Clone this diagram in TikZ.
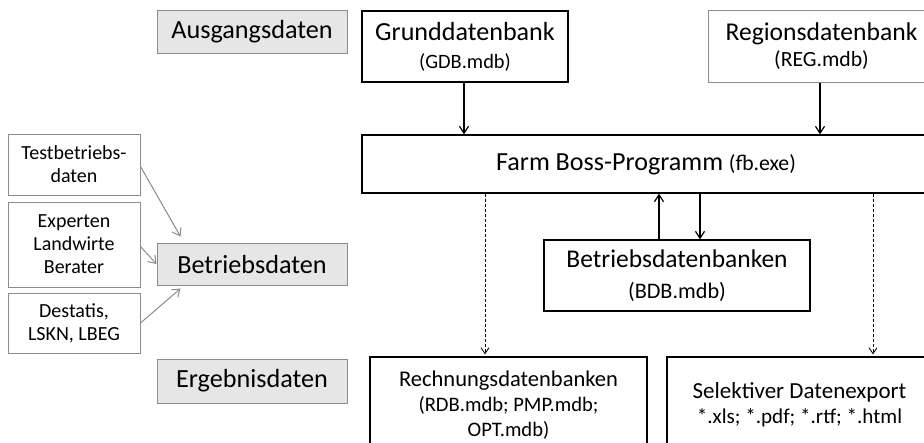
\documentclass[tikz,border=0pt]{standalone}
\usepackage{fontspec}
\setmainfont{Carlito}
\usetikzlibrary{arrows.meta}

\begin{document}
\begin{tikzpicture}[x=1pt,y=-1pt,
    fbox/.style={shape=rectangle,draw,line width=1.2pt,inner sep=0pt,align=center},
    levelbox/.style={fbox,draw=hlearn_line,line width=1pt,fill=hlearn_level,minimum width=190pt,font=\fontsize{26.2}{28}\selectfont},
    srcbox/.style={fbox,draw=hlearn_line,line width=1pt,minimum width=132pt,font=\fontsize{20}{23}\selectfont},
    dbbox/.style={fbox,font=\fontsize{26.1}{28}\selectfont},
    feed/.style={draw=hlearn_line,line width=1pt,-{Straight Barb[length=7pt,width=10pt]}},
    flow/.style={line width=1.2pt,-{Straight Barb[length=7pt,width=9pt]}},
    export/.style={line width=0.8pt,dash pattern=on 3pt off 2pt,-{Straight Barb[length=6pt,width=8pt]}}]
    \definecolor{hlearn_level}{RGB}{230,230,230}
    \definecolor{hlearn_line}{RGB}{140,140,140}
    \clip (0,0) rectangle (924,442);
    % Ebenen
    \node[levelbox,minimum height=43pt] (ausgang)  at (252,31.5) {Ausgangsdaten};
    \node[levelbox,minimum height=42pt] (betrieb)  at (252,264)  {Betriebsdaten};
    \node[levelbox,minimum height=44pt] (ergebnis) at (252,381)  {Ergebnisdaten};
    % Quellen der Betriebsdaten
    \node[srcbox,minimum height=61pt] (test) at (74,164.5) {Testbetriebs-\\daten};
    \node[srcbox,minimum height=85pt] (expert) at (74,244.5) {Experten\\Landwirte\\Berater};
    \node[srcbox,minimum height=60pt] (destatis) at (74,323) {Destatis,\\LSKN, LBEG};
    % Datenbanken und Programm
    \node[dbbox,minimum width=206pt,minimum height=71pt] (gdb) at (465,46.5) {Grunddatenbank\\{\fontsize{20.4}{24}\selectfont(GDB.mdb)}};
    \node[dbbox,draw=hlearn_line,line width=1pt,font=\fontsize{25.6}{26}\selectfont,minimum width=227pt,minimum height=72pt] (reg) at (821.5,46) {Regionsdatenbank\\{\fontsize{21.7}{24}\selectfont(REG.mdb)}};
    \node[dbbox,minimum width=568pt,minimum height=58pt] (fb) at (646,164) {Farm Boss-Programm {\fontsize{21.8}{24}\selectfont(fb.exe)}};
    \node[dbbox,font=\fontsize{25.5}{31}\selectfont,minimum width=266pt,minimum height=71pt] (bdb) at (677,275.5) {Betriebsdatenbanken\\{\fontsize{22.2}{26}\selectfont(BDB.mdb)}};
    \node[dbbox,font=\fontsize{22.5}{25}\selectfont,minimum width=277pt,minimum height=97pt] (rdb) at (508.5,405.5) {Rechnungsdatenbanken\\{\fontsize{20.6}{24}\selectfont(RDB.mdb; PMP.mdb;}\\{\fontsize{20.6}{24}\selectfont OPT.mdb)}};
    \node[dbbox,font=\fontsize{23}{25}\selectfont,minimum width=265pt,minimum height=96pt] (sel) at (799.5,405) {Selektiver Datenexport\\{\fontsize{21.1}{24}\selectfont *.xls; *.pdf; *.rtf; *.html}};
    % Verbindungen
    \draw[feed] ([yshift=-2pt]test.east) -- ([xshift=24pt,yshift=6pt]betrieb.north west);
    \draw[feed] ([yshift=-2pt]expert.east) -- (betrieb.west);
    \draw[feed] (destatis.east) -- ([xshift=24pt,yshift=-3pt]betrieb.south west);
    \draw[flow] ([xshift=-1pt]gdb.south) -- ([xshift=-1pt]gdb.south|-fb.north);
    \draw[flow] ([xshift=-1.5pt]reg.south) -- ([xshift=-1.5pt]reg.south|-fb.north);
    \draw[flow] ([xshift=-18pt]bdb.north) -- ([xshift=-18pt]bdb.north|-fb.south);
    \draw[flow] ([xshift=23pt]bdb.north|-fb.south) -- ([xshift=23pt]bdb.north);
    \draw[export,shorten >=2pt] ([xshift=-23.5pt]rdb.north|-fb.south) -- ([xshift=-23.5pt]rdb.north);
    \draw[export,shorten >=2pt] ([xshift=73.5pt]sel.north|-fb.south) -- ([xshift=73.5pt]sel.north);
\end{tikzpicture}
\end{document}
